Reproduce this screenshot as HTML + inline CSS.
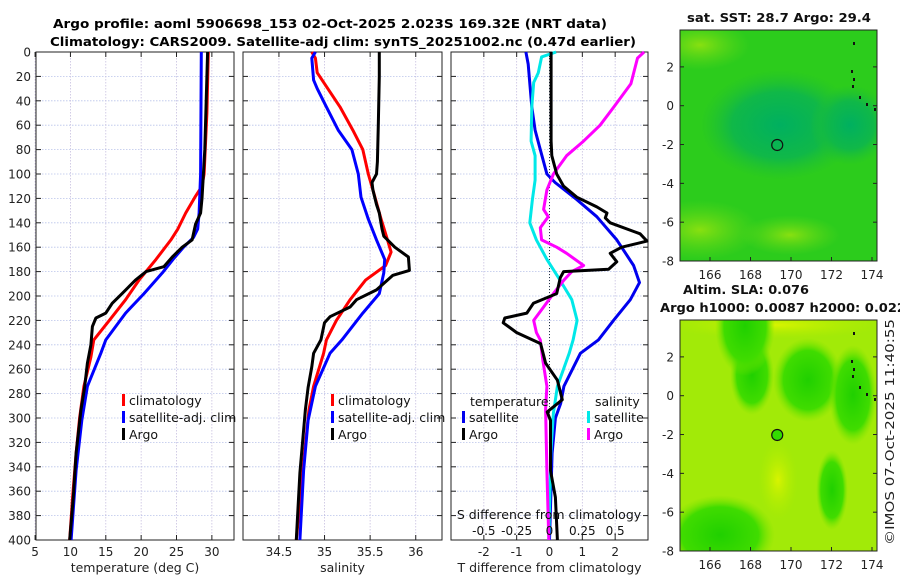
<!DOCTYPE html>
<html><head><meta charset="utf-8"><style>
body{margin:0;background:#fff;}
svg{display:block;font-family:"DejaVu Sans","Liberation Sans",sans-serif;}
</style></head><body>
<svg id="chart" width="900" height="580" viewBox="0 0 900 580">
<defs>
<radialGradient id="teal" cx="50%" cy="50%" r="50%"><stop offset="0" stop-color="#00b060"/><stop offset="0.6" stop-color="#10b848"/><stop offset="1" stop-color="#20c030" stop-opacity="0"/></radialGradient>
<radialGradient id="lime" cx="50%" cy="50%" r="50%"><stop offset="0" stop-color="#88e010"/><stop offset="1" stop-color="#60d818" stop-opacity="0"/></radialGradient>
<radialGradient id="gblob" cx="50%" cy="50%" r="50%"><stop offset="0" stop-color="#20d000"/><stop offset="0.7" stop-color="#40dc00"/><stop offset="1" stop-color="#7ce400" stop-opacity="0"/></radialGradient>
<radialGradient id="yblob" cx="50%" cy="50%" r="50%"><stop offset="0" stop-color="#d8f400"/><stop offset="1" stop-color="#b0ec00" stop-opacity="0"/></radialGradient>
</defs>
<text x="330" y="28" text-anchor="middle" font-size="12.5" font-weight="bold" textLength="554" lengthAdjust="spacingAndGlyphs">Argo profile: aoml 5906698_153 02-Oct-2025 2.023S 169.32E (NRT data)</text>
<text x="343" y="46" text-anchor="middle" font-size="12.5" font-weight="bold" textLength="586" lengthAdjust="spacingAndGlyphs">Climatology: CARS2009. Satellite-adj clim: synTS_20251002.nc (0.47d earlier)</text>
<g id="plots"></g>
<g id="maps"></g>
</svg>
<script>
// ---- data ----
const tArgoDepth=[0,20,40,60,80,100,120,132,141,154,160,168,176,180,187,198,206,214,218,225,240,255,275,293,329,365,400];
const tArgo=[29.4,29.3,29.2,29.1,29.0,28.8,28.6,28.4,27.7,27.2,25.8,24.4,23.2,20.7,19.2,17.3,15.9,15.0,13.6,13.1,12.9,12.4,12.0,11.5,10.8,10.4,9.9];
const tClimDepth=[0,50,100,110,119,132,145,154,170,187,203,220,236,250,274,300,329,365,400];
const tClim=[29.5,29.3,28.9,28.6,27.6,26.3,25.2,24.2,22.1,19.7,17.8,15.5,13.3,12.9,11.9,11.3,10.8,10.3,9.9];
const tSatDepth=[0,100,132,145,152,160,170,181,198,214,236,247,274,302,343,400];
const tSat=[28.5,28.4,28.2,28.0,27.4,26.0,24.5,23.0,20.4,17.8,15.0,14.3,12.4,11.6,10.8,10.1];

const sArgoDepth=[0,20,60,90,100,107,113,125,132,145,151,160,168,179,183,195,203,209,217,222,236,247,258,275,293,345,400];
const sArgo=[35.60,35.60,35.59,35.58,35.57,35.52,35.53,35.57,35.60,35.63,35.65,35.77,35.92,35.93,35.75,35.57,35.35,35.28,35.06,35.0,34.96,34.88,34.86,34.82,34.79,34.73,34.69];
const sClimDepth=[0,5,17,45,64,80,100,113,137,154,164,175,187,203,220,236,247,274,293,329,400];
const sClim=[34.86,34.90,34.92,35.17,35.31,35.42,35.48,35.53,35.62,35.69,35.73,35.67,35.45,35.28,35.13,35.02,34.99,34.88,34.83,34.78,34.69];
const sSatDepth=[0,5,23,30,45,64,80,100,119,137,154,170,181,198,214,236,247,274,302,343,400];
const sSat=[34.90,34.86,34.88,34.92,35.02,35.15,35.30,35.37,35.40,35.48,35.57,35.66,35.65,35.60,35.42,35.19,35.06,34.90,34.82,34.77,34.73];

const dTSatDepth=[0,10,45,64,80,100,107,121,135,154,175,189,203,220,236,247,274,288,300,329,400];
const dTSat=[-0.72,-0.65,-0.54,-0.44,-0.28,-0.08,0.17,0.83,1.44,2.05,2.56,2.74,2.46,1.95,1.49,0.94,0.44,0.34,0.18,0.08,0.0];
const dTArgoDepth=[0,73,85,100,110,119,127,132,136,140,149,155,160,165,172,178,180,185,198,206,214,218,222,230,239,255,269,285,295,302,343,365,400];
const dTArgo=[0.05,0.05,0.07,0.22,0.43,0.83,1.44,1.75,1.70,1.85,2.76,2.97,2.2,1.85,2.05,1.8,0.43,0.33,0.22,-0.49,-0.69,-1.36,-1.41,-1.0,-0.27,-0.12,0.24,0.39,-0.07,0.03,0.03,0.18,0.24];
const dSSatDepth=[0,4,17,25,45,73,85,105,121,140,154,170,187,203,220,236,247,274,296,329,400];
const dSSat=[0.05,-0.06,-0.085,-0.12,-0.135,-0.14,-0.11,-0.11,-0.13,-0.15,-0.10,-0.02,0.08,0.17,0.21,0.18,0.15,0.06,0.03,0.01,-0.005];
const dSArgoDepth=[0,5,26,45,60,73,85,100,113,129,135,144,154,160,165,175,180,187,198,209,220,230,236,253,274,293,343,400];
const dSArgo=[0.72,0.67,0.62,0.49,0.385,0.26,0.13,0.03,-0.02,-0.045,-0.01,-0.07,-0.06,0.055,0.13,0.26,0.17,0.11,0.03,-0.045,-0.12,-0.10,-0.07,-0.05,-0.02,-0.03,-0.02,-0.005];

const depthTicks=[0,20,40,60,80,100,120,140,160,180,200,220,240,260,280,300,320,340,360,380,400];
const tempTicks=[5,10,15,20,25,30];
const salTicks=[34.5,35,35.5,36];
const dTTicks=[-2,-1,0,1,2];
const dSTicks=[-0.5,-0.25,0,0.25,0.5];
const dSTickLabels=["-0.5","-0.25","0","0.25","0.5"];
const lonTicks=[166,168,170,172,174];
const latTicks=[2,0,-2,-4,-6,-8];

const NS="http://www.w3.org/2000/svg";
function mk(tag,attrs,parent){const e=document.createElementNS(NS,tag);for(const k in attrs)e.setAttribute(k,attrs[k]);parent.appendChild(e);return e;}
const plots=document.getElementById('plots');
const Y0=52,Y1=540;
const yD=d=>Y0+(d/400)*(Y1-Y0);

function panel(name,x0,x1,vmin,vmax,xticks,xlabels,xtitle,showY){
  const g=mk('g',{},plots);
  
  
  const sx=v=>x0+(v-vmin)/(vmax-vmin)*(x1-x0);
  depthTicks.forEach(d=>{mk('line',{x1:x0,x2:x1,y1:yD(d),y2:yD(d),stroke:'#b9c3ea','stroke-width':0.8,'stroke-dasharray':'1.5,1.5'},g);});
  xticks.forEach(v=>{mk('line',{x1:sx(v),x2:sx(v),y1:Y0,y2:Y1,stroke:'#c8c0e0','stroke-width':0.8,'stroke-dasharray':'1.5,1.5'},g);});
  depthTicks.forEach(d=>{mk('line',{x1:x0,x2:x0+5,y1:yD(d),y2:yD(d),stroke:'#222'},g);mk('line',{x1:x1-5,x2:x1,y1:yD(d),y2:yD(d),stroke:'#222'},g);
    if(showY){const t=mk('text',{x:x0-5,y:yD(d)+4.5,'text-anchor':'end','font-size':12,fill:'#222'},g);t.textContent=d;}});
  xticks.forEach((v,i)=>{mk('line',{x1:sx(v),x2:sx(v),y1:Y1-5,y2:Y1,stroke:'#222'},g);mk('line',{x1:sx(v),x2:sx(v),y1:Y0,y2:Y0+5,stroke:'#222'},g);
    const t=mk('text',{x:sx(v),y:Y1+16,'text-anchor':'middle','font-size':12,fill:'#222'},g);t.textContent=xlabels[i];});
  mk('rect',{x:x0,y:Y0,width:x1-x0,height:Y1-Y0,fill:'none',stroke:'#222','stroke-width':1},g);
  const tt=mk('text',{x:(x0+x1)/2,y:Y1+32,'text-anchor':'middle','font-size':12.5,fill:'#222'},g);tt.textContent=xtitle;
  return {g,sx};
}
function line(p,depths,vals,color,name,scale){
  const pts=depths.map((d,i)=>p.sx(vals[i]*(scale||1)).toFixed(1)+','+yD(d).toFixed(1)).join(' ');
  const e=mk('polyline',{points:pts,fill:'none',stroke:color,'stroke-width':3,'stroke-linejoin':'round'},p.g);
  
  
}
function legend(g,x,y,items){
  items.forEach((it,i)=>{mk('rect',{x:x,y:y+i*17-7,width:3,height:12,fill:it[1]},g);
    const t=mk('text',{x:x+7,y:y+i*17+4,'font-size':12.5,fill:'#111'},g);t.textContent=it[0];
    
    });
}
const p1=panel('temperature-panel',36,234,5.13,33.13,tempTicks,tempTicks.map(String),'temperature (deg C)',true);
line(p1,tClimDepth,tClim,'#ff0000','temp-climatology-line');
line(p1,tSatDepth,tSat,'#0000ff','temp-satellite-line');
line(p1,tArgoDepth,tArgo,'#000','temp-argo-line');
legend(p1.g,122,401,[['climatology','#ff0000'],['satellite-adj. clim','#0000ff'],['Argo','#000']]);
const p2=panel('salinity-panel',243,442,34.106,36.288,salTicks,salTicks.map(String),'salinity',false);
line(p2,sClimDepth,sClim,'#ff0000','sal-climatology-line');
line(p2,sSatDepth,sSat,'#0000ff','sal-satellite-line');
line(p2,sArgoDepth,sArgo,'#000','sal-argo-line');
legend(p2.g,331,401,[['climatology','#ff0000'],['satellite-adj. clim','#0000ff'],['Argo','#000']]);
const p3=panel('difference-panel',451,648,-3.0,3.0,dTTicks,dTTicks.map(String),'T difference from climatology',false);
mk('line',{x1:p3.sx(0),x2:p3.sx(0),y1:Y0,y2:Y1,stroke:'#234','stroke-width':1,'stroke-dasharray':'1,2'},p3.g);
line(p3,dTSatDepth,dTSat,'#0000ee','dT-satellite-line');
line(p3,dSSatDepth,dSSat,'#00e8e8','dS-satellite-line',4);
line(p3,dSArgoDepth,dSArgo,'#ff00ff','dS-argo-line',4);
line(p3,dTArgoDepth,dTArgo,'#000','dT-argo-line');
{const t=mk('text',{x:470,y:406,'font-size':12.5,fill:'#111'},p3.g);t.textContent='temperature';
 const t2=mk('text',{x:595,y:406,'font-size':12.5,fill:'#111'},p3.g);t2.textContent='salinity';}
legend(p3.g,462,418,[['satellite','#0000ee'],['Argo','#000']]);
legend(p3.g,587,418,[['satellite','#00e8e8'],['Argo','#ff00ff']]);
{const t=mk('text',{x:549,y:519,'text-anchor':'middle','font-size':12.5,fill:'#111'},p3.g);t.textContent='S difference from climatology';
 dSTicks.forEach((v,i)=>{const e=mk('text',{x:p3.sx(v*4),y:535,'text-anchor':'middle','font-size':12,fill:'#111'},p3.g);e.textContent=dSTickLabels[i];});}

const maps=document.getElementById('maps');
function mapPanel(name,y0,y1,title,bg,blobs){
  const g=mk('g',{},maps);
  
  
  const x0=680,x1=877;
  const lx=l=>710+(l-166)*20.25;
  const ly=la=>y0+(3.9-la)*(y1-y0)/11.9;
  const cp='cp'+name;
  const c=mk('clipPath',{id:cp},g);mk('rect',{x:x0,y:y0,width:x1-x0,height:y1-y0},c);
  const inner=mk('g',{'clip-path':'url(#'+cp+')'},g);
  mk('rect',{x:x0,y:y0,width:x1-x0,height:y1-y0,fill:bg},inner);
  blobs.forEach(b=>mk('ellipse',{cx:b[0],cy:y0+b[1],rx:b[2],ry:b[3],fill:'url(#'+b[4]+')'},inner));
  [[853,y0+12],[851,y0+40],[853,y0+48],[852,y0+55],[859,y0+66],[866,y0+73],[874,y0+78]].forEach(p=>mk('rect',{x:p[0],y:p[1],width:2,height:3,fill:'#111'},inner));
  mk('circle',{cx:lx(169.32),cy:ly(-2.023),r:5.5,fill:name==='sla-map'?'#33dd00':'none',stroke:'#111','stroke-width':1.2},inner);
  mk('rect',{x:x0,y:y0,width:x1-x0,height:y1-y0,fill:'none',stroke:'#222'},g);
  lonTicks.forEach(l=>{mk('line',{x1:lx(l),x2:lx(l),y1:y1-4,y2:y1,stroke:'#222'},g);
    const t=mk('text',{x:lx(l),y:y1+18,'text-anchor':'middle','font-size':12,fill:'#222'},g);t.textContent=l;});
  latTicks.forEach(la=>{mk('line',{x1:x0,x2:x0+4,y1:ly(la),y2:ly(la),stroke:'#222'},g);mk('line',{x1:x1-4,x2:x1,y1:ly(la),y2:ly(la),stroke:'#222'},g);
    const t=mk('text',{x:x0-6,y:ly(la)+4.5,'text-anchor':'end','font-size':12,fill:'#222'},g);t.textContent=la;});
  title.forEach(s=>{const t=mk('text',{x:s[1],y:s[2],'text-anchor':'middle','font-size':12.5,'font-weight':'bold',fill:'#111',textLength:s[3],lengthAdjust:'spacingAndGlyphs'},g);t.textContent=s[0];});
}
mapPanel('sst-map',30,261,[['sat. SST: 28.7 Argo: 29.4',779,22,184]],'#2ccc1c',
 [[700,15,50,25,'lime'],[700,200,60,30,'lime'],[790,205,50,20,'lime'],[780,95,80,55,'teal'],[850,95,40,40,'teal']]);
mapPanel('sla-map',320,551,[['Altim. SLA: 0.076',746,294,126],['Argo h1000: 0.0087 h2000: 0.022',783,312,246]],'#a2ea08',
 [[775,5,110,14,'yblob'],[752,55,22,40,'gblob'],[808,60,35,42,'gblob'],[853,75,24,50,'gblob'],[720,215,55,40,'gblob'],[745,6,30,50,'gblob'],[832,170,16,40,'gblob'],[778,160,20,40,'yblob']]);
{const t=mk('text',{x:0,y:0,'font-size':12.5,fill:'#222',transform:'translate(894,545) rotate(-90)',textLength:226,lengthAdjust:'spacingAndGlyphs'},maps);t.textContent='©IMOS 07-Oct-2025 11:40:55';
 
 }
</script>
</body></html>
